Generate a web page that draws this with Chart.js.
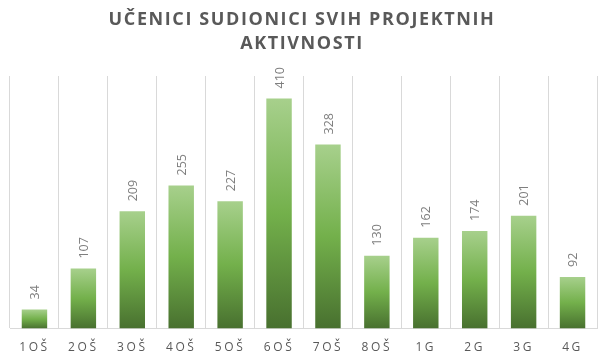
<!DOCTYPE html>
<html>
<head>
<meta charset="utf-8">
<script src="https://cdn.jsdelivr.net/npm/chart.js@4/dist/chart.umd.min.js"></script>
<style>
  html, body { margin: 0; padding: 0; background: #fff; }
  #wrap { width: 602px; height: 355px; }
</style>
</head>
<body>
<div id="wrap"><canvas id="chart"></canvas></div>
<script>
// podaci
const razredi = ["1OŠ", "2OŠ", "3OŠ", "4OŠ", "5OŠ", "6OŠ", "7OŠ", "8OŠ", "1G", "2G", "3G", "4G"];
const ucenici = [34, 107, 209, 255, 227, 410, 328, 130, 162, 174, 201, 92];
const naslov = ["UČENICI SUDIONICI SVIH PROJEKTNIH", "AKTIVNOSTI"];
const yMax = 450;

// gradijent za svaki stupac posebno (svijetlo gore, tamno dolje)
function barGradient(ctx) {
    const chart = ctx.chart;
    if (!chart.chartArea || ctx.dataIndex === undefined) return "#70ad47";
    const y = chart.scales.y;
    const top = y.getPixelForValue(ctx.raw);
    const bottom = y.getPixelForValue(0);
    const g = chart.ctx.createLinearGradient(0, top, 0, bottom);
    g.addColorStop(0, "#a7d08c");
    g.addColorStop(0.5, "#73b04b");
    g.addColorStop(1, "#48702f");
    return g;
}

// razmak slova za oznake osi
const letterSpacingPlugin = {
    id: "letterSpacing",
    beforeDraw(chart) {
        chart.ctx.letterSpacing = "2.6px";
    }
};

// naslov (crta se sam zbog razmaka slova)
const naslovPlugin = {
    id: "naslov",
    afterDraw(chart) {
        const ctx = chart.ctx;
        ctx.save();
        ctx.letterSpacing = "1.6px";
        ctx.font = "bold 18px 'Open Sans', sans-serif";
        ctx.fillStyle = "#595959";
        ctx.textAlign = "center";
        ctx.textBaseline = "middle";
        const cx = chart.width / 2 + 1;
        ctx.fillText(naslov[0], cx, 20);
        ctx.fillText(naslov[1], cx, 44);
        ctx.restore();
    }
};

// vrijednosti iznad stupaca, okrenute za 90 stupnjeva
const valueLabels = {
    id: "valueLabels",
    afterDatasetsDraw(chart) {
        const ctx = chart.ctx;
        const meta = chart.getDatasetMeta(0);
        ctx.save();
        ctx.letterSpacing = "0px";
        ctx.font = "12.5px 'Open Sans', sans-serif";
        ctx.fillStyle = "#7f7f7f";
        ctx.textAlign = "left";
        ctx.textBaseline = "middle";
        meta.data.forEach(function(bar, i) {
            ctx.save();
            ctx.translate(bar.x + 1, bar.y - 10);
            ctx.rotate(-Math.PI / 2);
            ctx.fillText(String(ucenici[i]), 0, 0);
            ctx.restore();
        });
        ctx.restore();
    }
};

new Chart(document.getElementById("chart"), {
    type: "bar",
    data: {
        labels: razredi,
        datasets: [{
            label: "Učenici",
            data: ucenici,
            backgroundColor: barGradient,
            borderWidth: 0,
            barPercentage: 0.52,
            categoryPercentage: 1.0
        }]
    },
    options: {
        responsive: true,
        maintainAspectRatio: false,
        animation: false,
        layout: { padding: { left: 10, right: 5, top: 76, bottom: -12 } },
        plugins: {
            legend: { display: false },
            tooltip: { enabled: false },
            title: { display: false }
        },
        scales: {
            x: {
                grid: {
                    display: true,
                    color: "#d9d9d9",
                    lineWidth: 1,
                    drawTicks: false,
                    offset: true
                },
                border: { display: true, color: "#d9d9d9" },
                ticks: {
                    color: "#595959",
                    font: { family: "'Open Sans', sans-serif", size: 12 },
                    padding: 12,
                    maxRotation: 0
                }
            },
            y: {
                display: false,
                min: 0,
                max: yMax
            }
        }
    },
    plugins: [letterSpacingPlugin, naslovPlugin, valueLabels]
});
</script>
</body>
</html>
